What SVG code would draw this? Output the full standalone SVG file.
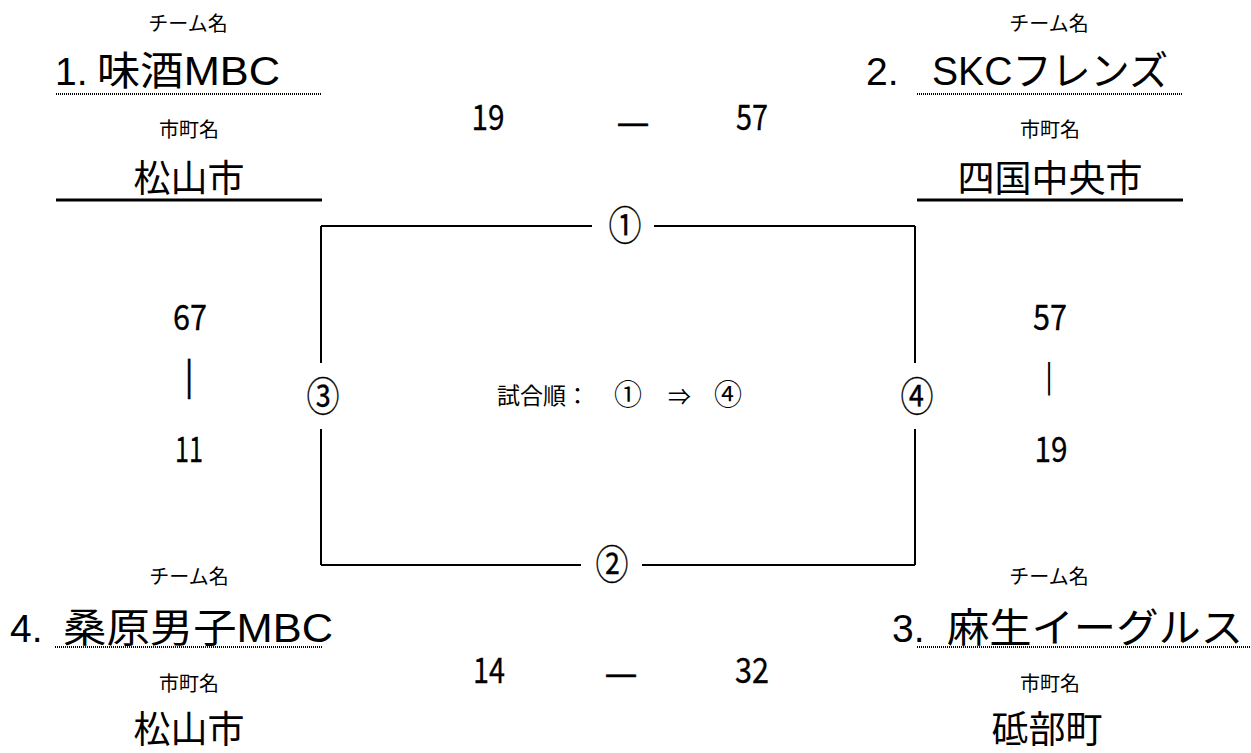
<svg xmlns="http://www.w3.org/2000/svg" width="1251" height="753" viewBox="0 0 1251 753">
<style>
text{font-family:"Liberation Sans","Noto Sans CJK JP",sans-serif;fill:#000}
.lbl{font-family:"Noto Sans CJK JP",sans-serif;font-size:20px;text-anchor:middle}
.num{font-family:"Liberation Sans","Noto Sans CJK JP",sans-serif;font-size:39px}
.name{font-family:"Liberation Sans","Noto Sans CJK JP",sans-serif;font-size:40px}
.city{font-family:"Noto Sans CJK JP",sans-serif;font-size:37px;text-anchor:middle}
.score{font-family:"Noto Sans CJK JP",sans-serif;font-size:35px;text-anchor:middle;stroke:#000;stroke-width:0.3}
.dash{font-family:"Noto Sans CJK JP",sans-serif;font-size:37px;text-anchor:middle;stroke:#000;stroke-width:0.5}
.circ{font-family:"Noto Sans CJK JP",sans-serif;font-size:40px;text-anchor:middle;stroke:#000;stroke-width:0.3}
.dot{stroke:#000;stroke-width:2;stroke-dasharray:1 1;fill:none}
.solid{stroke:#000;stroke-width:3;fill:none}
.br{stroke:#000;stroke-width:2;fill:none}
</style>
<rect width="1251" height="753" fill="#fff"/>

<g id="team1">
<text class="lbl" x="188" y="31">チーム名</text>
<text class="num" x="55" y="85">1.</text>
<text class="name" x="97" y="85" textLength="183" lengthAdjust="spacingAndGlyphs">味酒MBC</text>
<line class="dot" x1="56" y1="94" x2="322" y2="94"/>
<text class="lbl" x="189" y="137">市町名</text>
<text class="city" x="189" y="192">松山市</text>
<line class="solid" x1="56" y1="200" x2="322" y2="200"/>
</g>

<g id="team2">
<text class="lbl" x="1049" y="31">チーム名</text>
<text class="num" x="866" y="85">2.</text>
<text class="name" x="932" y="85" textLength="236" lengthAdjust="spacingAndGlyphs">SKCフレンズ</text>
<line class="dot" x1="917" y1="94" x2="1183" y2="94"/>
<text class="lbl" x="1050" y="137">市町名</text>
<text class="city" x="1050" y="192">四国中央市</text>
<line class="solid" x1="917" y1="200" x2="1183" y2="200"/>
</g>

<g id="team4">
<text class="lbl" x="189" y="584">チーム名</text>
<text class="num" x="10" y="642">4.</text>
<text class="name" x="63" y="642" textLength="270" lengthAdjust="spacingAndGlyphs">桑原男子MBC</text>
<line class="dot" x1="55" y1="647" x2="322" y2="647"/>
<text class="lbl" x="189" y="691">市町名</text>
<text class="city" x="189" y="743">松山市</text>
</g>

<g id="team3">
<text class="lbl" x="1049" y="584">チーム名</text>
<text class="num" x="892" y="642">3.</text>
<text class="name" x="947" y="642" textLength="296" lengthAdjust="spacingAndGlyphs">麻生イーグルス</text>
<line class="dot" x1="917" y1="647" x2="1251" y2="647"/>
<text class="lbl" x="1050" y="691">市町名</text>
<text class="city" x="1047" y="743">砥部町</text>
</g>

<g id="connectors">
<path class="br" d="M321,226 H592 M654,226 H915"/>
<path class="br" d="M321,226 V363 M321,429 V565"/>
<path class="br" d="M915,226 V363 M915,429 V565"/>
<path class="br" d="M321,565 H581 M642,565 H915"/>
</g>

<g id="match-labels">
<text class="circ" x="625" y="240" textLength="33" lengthAdjust="spacingAndGlyphs">①</text>
<text class="circ" x="612" y="579" textLength="33" lengthAdjust="spacingAndGlyphs">②</text>
<text class="circ" x="323" y="411" textLength="33" lengthAdjust="spacingAndGlyphs">③</text>
<text class="circ" x="917" y="411" textLength="33" lengthAdjust="spacingAndGlyphs">④</text>
</g>

<g id="order">
<text style="font-family:'Noto Sans CJK JP',sans-serif;font-size:23px" y="404"><tspan x="497">試合順：</tspan><tspan x="614" style="font-size:28px" dy="1">①</tspan><tspan x="668">⇒</tspan><tspan x="714" style="font-size:28px">④</tspan></text>
</g>

<g id="score-1-2">
<text class="score" x="488" y="130" textLength="33" lengthAdjust="spacingAndGlyphs">19</text>
<text class="dash" x="633" y="135">—</text>
<text class="score" x="752" y="130" textLength="32" lengthAdjust="spacingAndGlyphs">57</text>
</g>

<g id="score-3-4">
<text class="score" x="489" y="683" textLength="32" lengthAdjust="spacingAndGlyphs">14</text>
<text class="dash" x="621" y="686">—</text>
<text class="score" x="752" y="683" textLength="34" lengthAdjust="spacingAndGlyphs">32</text>
</g>

<g id="score-1-4">
<text class="score" x="190" y="330" textLength="34" lengthAdjust="spacingAndGlyphs">67</text>
<text class="score" style="font-size:36px" x="189" y="389">|</text>
<text class="score" x="189" y="462" textLength="28" lengthAdjust="spacingAndGlyphs">11</text>
</g>

<g id="score-2-3">
<text class="score" x="1050" y="330" textLength="34" lengthAdjust="spacingAndGlyphs">57</text>
<text class="score" style="font-size:30px;stroke-width:0" x="1049" y="387">|</text>
<text class="score" x="1051" y="462" textLength="33" lengthAdjust="spacingAndGlyphs">19</text>
</g>
</svg>
